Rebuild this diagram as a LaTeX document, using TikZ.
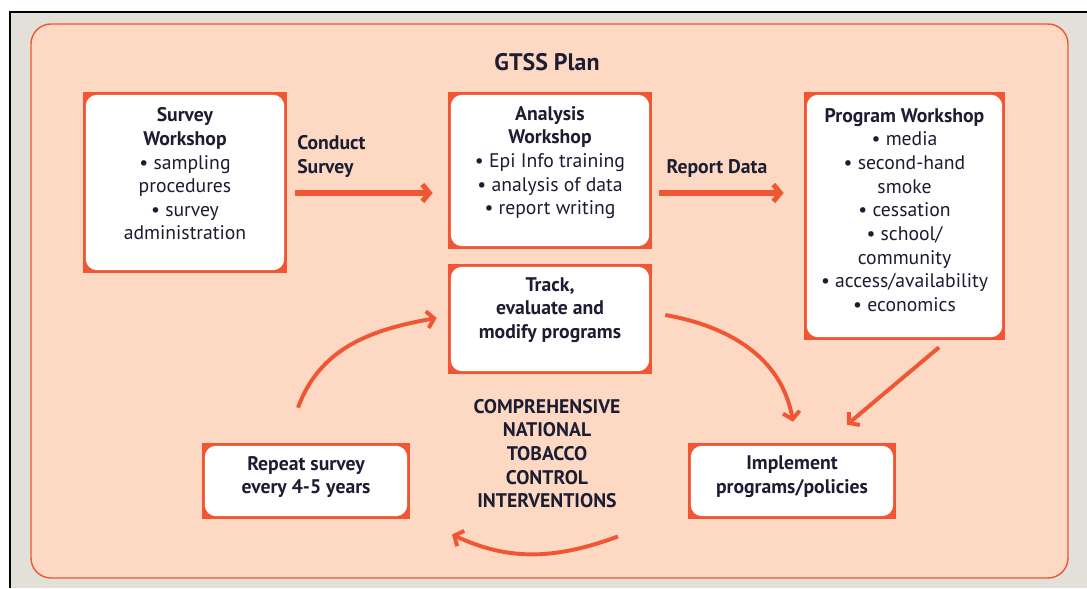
\documentclass[tikz,border=0pt]{standalone}
\usepackage{fontspec}
\setmainfont{PT Sans}
\usetikzlibrary{calc,arrows.meta,positioning}
\definecolor{edge}{RGB}{240,86,52}
\definecolor{peach}{RGB}{253,217,196}
\definecolor{ink}{RGB}{28,28,50}
\definecolor{backgray}{RGB}{227,224,218}

\begin{document}
\begin{tikzpicture}[x=0.025cm,y=0.025cm,>={Straight Barb[length=5pt,width=12pt]},
		frame/.style={fill=edge,inner sep=0pt,path picture={
			\fill[white,rounded corners=8pt] ([shift={(2pt,2pt)}]path picture bounding box.south west) rectangle ([shift={(-2pt,-2pt)}]path picture bounding box.north east);}},
		txt/.style={align=center,text=ink,inner sep=0pt,font=\fontsize{14}{16.8}\selectfont},
		hd/.style={txt,font=\fontsize{14}{16.8}\selectfont\bfseries},
		arr/.style={->,draw=edge,line width=3.6pt},
		curvearr/.style={->,draw=edge,line width=2.8pt}]
		\useasboundingbox (0,0) rectangle (1087,588);
		\fill[backgray] (10,0) rectangle (1087,576);
		\draw[line width=1.5pt] (10,0) -- (10,576) -- (1087,576);
		\draw[edge,fill=peach,line width=1pt,rounded corners=0.5cm] (31,10) rectangle (1068,564);
		\node[txt,font=\fontsize{17}{20}\selectfont\bfseries] (title) at (547,526) {GTSS Plan};
		\node[frame,minimum width=5.1cm,minimum height=4.525cm] (survey) at (185,405.5) {};
		\node[frame,minimum width=5.1cm,minimum height=3.925cm] (analysis) at (550,417.5) {};
		\node[frame,minimum width=5.1cm,minimum height=2.75cm] (track) at (550,269) {};
		\node[frame,minimum width=5.025cm,minimum height=6.2cm] (program) at (904.5,372) {};
		\node[frame,minimum width=5.2cm,minimum height=1.9cm] (repeat) at (306,107) {};
		\node[frame,minimum width=5.2cm,minimum height=1.9cm] (implement) at (792,107) {};
		\node[txt] (survey-t) at (185,414) {\textbf{Survey}\\\textbf{Workshop}\\• sampling\\procedures\\• survey\\administration};
		\node[txt] (analysis-t) at (550,425.5) {\textbf{Analysis}\\\textbf{Workshop}\\• Epi Info training\\• analysis of data\\• report writing};
		\node[hd] (track-t) at (550,278) {Track,\\evaluate and\\modify programs};
		\node[txt] (program-t) at (904.5,378) {\textbf{Program Workshop}\\• media\\• second-hand\\smoke\\• cessation\\• school/\\community\\• access/availability\\• economics};
		\node[hd] (repeat-t) at (306,111) {Repeat survey\\every 4-5 years};
		\node[hd] (implement-t) at (792,111) {Implement\\programs/policies};
		\node[hd] (comp) at (547,134.5) {COMPREHENSIVE\\NATIONAL\\TOBACCO\\CONTROL\\INTERVENTIONS};
		\node[hd,anchor=west,align=left] (conduct) at (297,431.5) {Conduct\\Survey};
		\node[hd] (report) at (717,420) {Report Data};
		\coordinate (row) at (0,395);
		\draw[arr] ($(survey.east |- row)+(8,0)$) -- ($(analysis.west |- row)+(-15,0)$);
		\draw[arr] ($(analysis.east |- row)+(7,0)$) -- ($(program.west |- row)+(-20,0)$);
		\draw[curvearr] ($(repeat.north)+(-8,35)$) to[out=70,in=190] ($(track.west)+(-11,1)$);
		\draw[curvearr] ($(track.east)+(13,4)$) to[out=-10,in=100] ($(implement.north)+(1,21)$);
		\draw[curvearr] ($(program.south)+(34.5,-7)$) -- ($(implement.north)+(55,18)$);
		\draw[curvearr] ($(comp.center)+(71,-83)$) to[out=200,in=-25] ($(comp.center)+(-95,-81)$);
	\end{tikzpicture}
\end{document}
